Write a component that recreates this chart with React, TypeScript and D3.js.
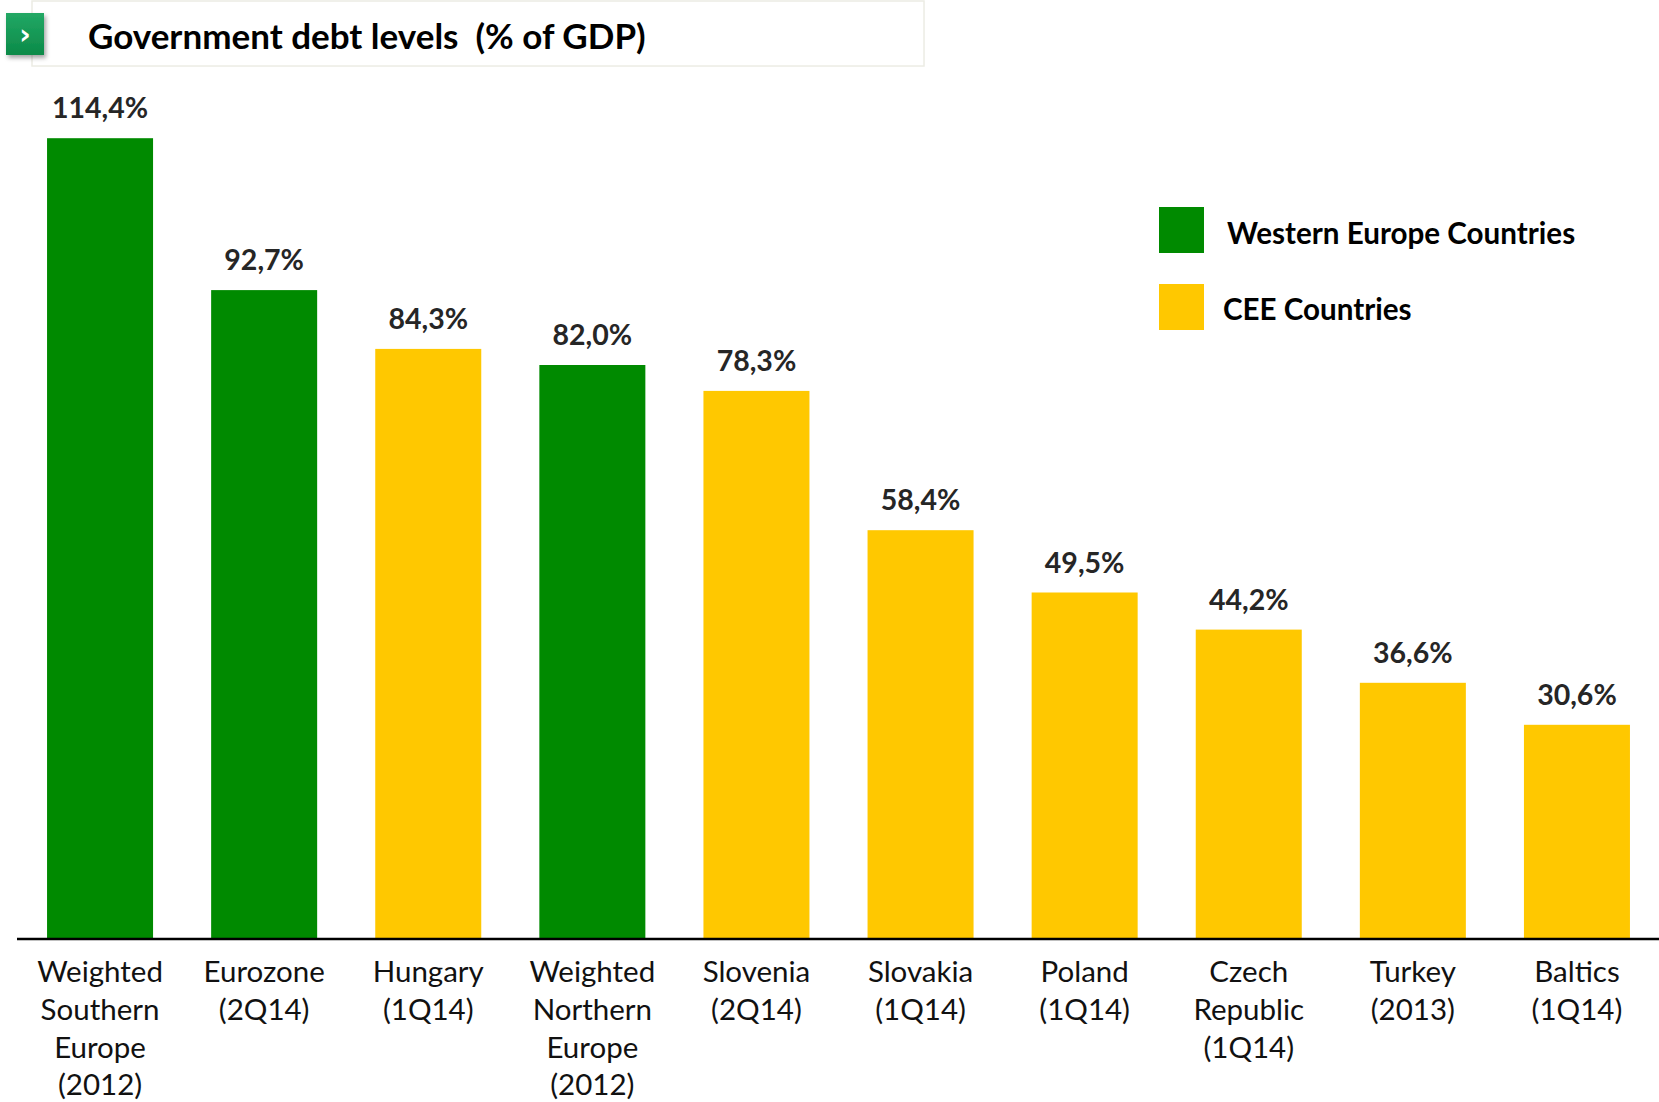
import React from "react";
import * as d3 from "d3";

const categories: string[][] = [
  ["Weighted", "Southern", "Europe", "(2012)"],
  ["Eurozone", "(2Q14)"],
  ["Hungary", "(1Q14)"],
  ["Weighted", "Northern", "Europe", "(2012)"],
  ["Slovenia", "(2Q14)"],
  ["Slovakia", "(1Q14)"],
  ["Poland", "(1Q14)"],
  ["Czech", "Republic", "(1Q14)"],
  ["Turkey", "(2013)"],
  ["Baltics", "(1Q14)"],
];
const values: number[] = [114.4, 92.7, 84.3, 82.0, 78.3, 58.4, 49.5, 44.2, 36.6, 30.6];
const groups: string[] = ["W", "W", "C", "W", "C", "C", "C", "C", "C", "C"];
const legendKeys: string[] = ["W", "C"];
const legendLabels: string[] = ["Western Europe Countries", "CEE Countries"];
const title = "Government debt levels  (% of GDP)";

const W = 1659;
const H = 1102;
const FONT = "Lato, 'Open Sans', sans-serif";

export default function App() {
  const ids = categories.map((_, i) => String(i));
  const x = d3.scaleBand<string>().domain(ids).range([18, 1659]).paddingInner(0.354).paddingOuter(0.177);
  const y = d3.scaleLinear().domain([0, 120]).range([939, 99]);
  const color = d3.scaleOrdinal<string, string>().domain(legendKeys).range(["#008A00", "#FFC800"]);
  const fmt = (v: number) => d3.format(".1f")(v).replace(".", ",") + "%";

  return (
    <div style={{ position: "absolute", left: 0, top: 0 }}>
      <svg width={W} height={H} style={{ display: "block", background: "#fff" }}>
        <defs>
          <linearGradient id="ic" x1="0" y1="0" x2="0" y2="1">
            <stop offset="0" stopColor="#22a865" />
            <stop offset="1" stopColor="#0b8a48" />
          </linearGradient>
          <filter id="sh" x="-30%" y="-30%" width="160%" height="160%">
            <feDropShadow dx="2" dy="3" stdDeviation="2" floodColor="#000" floodOpacity="0.35" />
          </filter>
        </defs>
        {/* title box */}
        <rect x={32} y={1} width={892} height={65} fill="#fff" stroke="#ecece4" strokeWidth={1.5} />
        <rect x={6} y={13} width={38} height={42} fill="url(#ic)" filter="url(#sh)" />
        <text x={25} y={44} textAnchor="middle" fill="#fff" fontFamily="'DejaVu Sans', sans-serif" fontWeight={700} fontSize={28}>›</text>
        <text x={88} y={49} fontFamily={FONT} fontWeight={700} fontSize={35} fill="#000" style={{ whiteSpace: "pre" }}>{title}</text>

        {/* bars */}
        {values.map((v, i) => (
          <rect key={"b" + i} x={x(ids[i])} y={y(v)} width={x.bandwidth()} height={y(0) - y(v)} fill={color(groups[i])} />
        ))}
        {/* value labels */}
        {values.map((v, i) => (
          <text key={"v" + i} x={(x(ids[i]) as number) + x.bandwidth() / 2} y={y(v) - 20} textAnchor="middle"
            fontFamily={FONT} fontWeight={700} fontSize={28.5} fill="#262626">{fmt(v)}</text>
        ))}
        {/* axis */}
        <line x1={17} x2={1659} y1={y(0)} y2={y(0)} stroke="#000" strokeWidth={2.5} />
        {/* category labels */}
        {categories.map((lines, i) => (
          <text key={"c" + i} textAnchor="middle" fontFamily={FONT} fontSize={29.5} fill="#111">
            {lines.map((ln, j) => (
              <tspan key={j} x={(x(ids[i]) as number) + x.bandwidth() / 2} y={982 + j * 37.8}>{ln}</tspan>
            ))}
          </text>
        ))}
        {/* legend */}
        {legendKeys.map((k, i) => (
          <g key={"l" + i}>
            <rect x={1159} y={207 + i * 77} width={45} height={46} fill={color(k)} />
            <text x={i === 0 ? 1227 : 1223} y={234 + i * 76 + 10} fontFamily={FONT} fontWeight={700} fontSize={29.6} fill="#000">{legendLabels[i]}</text>
          </g>
        ))}
      </svg>
    </div>
  );
}
